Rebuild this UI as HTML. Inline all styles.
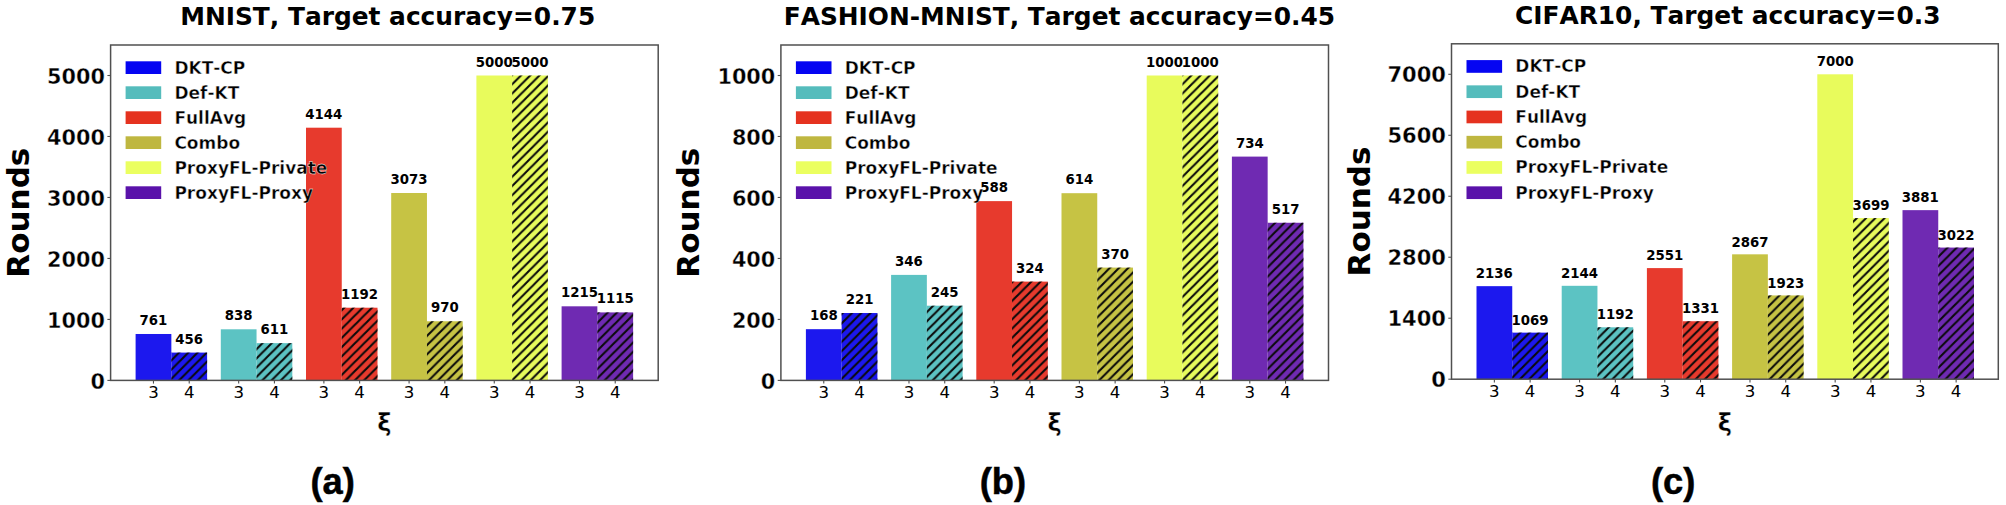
<!DOCTYPE html>
<html lang="en"><head><meta charset="utf-8"><title>Rounds to target accuracy</title>
<style>
html,body{margin:0;padding:0;background:#fff;}
svg{display:block;}
text{font-family:"DejaVu Sans","Liberation Sans",sans-serif;fill:#000;font-kerning:none;font-variant-ligatures:none;}
.b{font-weight:bold;}
.tag{font-family:"Liberation Sans",Arial,sans-serif;font-weight:bold;fill:#000;}
</style></head><body>
<svg width="2006" height="505" viewBox="0 0 2006 505">
<rect x="0" y="0" width="2006" height="505" fill="#ffffff"/>
<defs>
<pattern id="h" patternUnits="userSpaceOnUse" x="4.43" y="0" width="9.25" height="9.25"><path d="M-9.25 9.25 L9.25 -9.25 M0 9.25 L9.25 0 M0 18.5 L18.5 0" stroke="#0a0a0a" stroke-width="2.1" fill="none" stroke-linecap="square"/></pattern>
</defs>
<g transform="translate(0,0)">
<text class="b" x="387.7" y="25" font-size="24.86" text-anchor="middle">MNIST, Target accuracy=0.75</text>
<text class="b" transform="translate(28.8,212.7) rotate(-90)" font-size="31" text-anchor="middle">Rounds</text>
<text class="b" x="384.4" y="430.6" font-size="24" text-anchor="middle" stroke="#fff" stroke-width="0.4">ξ</text>
<rect x="135.6" y="333.99" width="35.75" height="46.41" fill="#1c18ee"/><text class="b" x="153.47" y="324.99" font-size="13.3" text-anchor="middle">761</text>
<line x1="153.47" y1="380.4" x2="153.47" y2="383.6" stroke="#505050" stroke-width="1.1"/><text x="153.47" y="397.6" font-size="16.6" text-anchor="middle">3</text>
<rect x="171.35" y="352.59" width="35.75" height="27.81" fill="#1c18ee"/><rect x="171.35" y="352.59" width="35.75" height="27.81" fill="url(#h)"/><text class="b" x="189.22" y="343.59" font-size="13.3" text-anchor="middle">456</text>
<line x1="189.22" y1="380.4" x2="189.22" y2="383.6" stroke="#505050" stroke-width="1.1"/><text x="189.22" y="397.6" font-size="16.6" text-anchor="middle">4</text>
<rect x="220.8" y="329.3" width="35.75" height="51.1" fill="#5cc3c3"/><text class="b" x="238.68" y="320.3" font-size="13.3" text-anchor="middle">838</text>
<line x1="238.68" y1="380.4" x2="238.68" y2="383.6" stroke="#505050" stroke-width="1.1"/><text x="238.68" y="397.6" font-size="16.6" text-anchor="middle">3</text>
<rect x="256.55" y="343.14" width="35.75" height="37.26" fill="#5cc3c3"/><rect x="256.55" y="343.14" width="35.75" height="37.26" fill="url(#h)"/><text class="b" x="274.43" y="334.14" font-size="13.3" text-anchor="middle">611</text>
<line x1="274.43" y1="380.4" x2="274.43" y2="383.6" stroke="#505050" stroke-width="1.1"/><text x="274.43" y="397.6" font-size="16.6" text-anchor="middle">4</text>
<rect x="306" y="127.7" width="35.75" height="252.7" fill="#e73a2d"/><text class="b" x="323.88" y="118.7" font-size="13.3" text-anchor="middle">4144</text>
<line x1="323.88" y1="380.4" x2="323.88" y2="383.6" stroke="#505050" stroke-width="1.1"/><text x="323.88" y="397.6" font-size="16.6" text-anchor="middle">3</text>
<rect x="341.75" y="307.71" width="35.75" height="72.69" fill="#e73a2d"/><rect x="341.75" y="307.71" width="35.75" height="72.69" fill="url(#h)"/><text class="b" x="359.62" y="298.71" font-size="13.3" text-anchor="middle">1192</text>
<line x1="359.62" y1="380.4" x2="359.62" y2="383.6" stroke="#505050" stroke-width="1.1"/><text x="359.62" y="397.6" font-size="16.6" text-anchor="middle">4</text>
<rect x="391.2" y="193.01" width="35.75" height="187.39" fill="#c6c344"/><text class="b" x="409.08" y="184.01" font-size="13.3" text-anchor="middle">3073</text>
<line x1="409.08" y1="380.4" x2="409.08" y2="383.6" stroke="#505050" stroke-width="1.1"/><text x="409.08" y="397.6" font-size="16.6" text-anchor="middle">3</text>
<rect x="426.95" y="321.25" width="35.75" height="59.15" fill="#c6c344"/><rect x="426.95" y="321.25" width="35.75" height="59.15" fill="url(#h)"/><text class="b" x="444.83" y="312.25" font-size="13.3" text-anchor="middle">970</text>
<line x1="444.83" y1="380.4" x2="444.83" y2="383.6" stroke="#505050" stroke-width="1.1"/><text x="444.83" y="397.6" font-size="16.6" text-anchor="middle">4</text>
<rect x="476.4" y="75.5" width="35.75" height="304.9" fill="#e8fb5c"/><text class="b" x="494.27" y="66.5" font-size="13.3" text-anchor="middle">5000</text>
<line x1="494.27" y1="380.4" x2="494.27" y2="383.6" stroke="#505050" stroke-width="1.1"/><text x="494.27" y="397.6" font-size="16.6" text-anchor="middle">3</text>
<rect x="512.15" y="75.5" width="35.75" height="304.9" fill="#e8fb5c"/><rect x="512.15" y="75.5" width="35.75" height="304.9" fill="url(#h)"/><text class="b" x="530.02" y="66.5" font-size="13.3" text-anchor="middle">5000</text>
<line x1="530.02" y1="380.4" x2="530.02" y2="383.6" stroke="#505050" stroke-width="1.1"/><text x="530.02" y="397.6" font-size="16.6" text-anchor="middle">4</text>
<rect x="561.6" y="306.31" width="35.75" height="74.09" fill="#6f2ab2"/><text class="b" x="579.48" y="297.31" font-size="13.3" text-anchor="middle">1215</text>
<line x1="579.48" y1="380.4" x2="579.48" y2="383.6" stroke="#505050" stroke-width="1.1"/><text x="579.48" y="397.6" font-size="16.6" text-anchor="middle">3</text>
<rect x="597.35" y="312.41" width="35.75" height="67.99" fill="#6f2ab2"/><rect x="597.35" y="312.41" width="35.75" height="67.99" fill="url(#h)"/><text class="b" x="615.23" y="303.41" font-size="13.3" text-anchor="middle">1115</text>
<line x1="615.23" y1="380.4" x2="615.23" y2="383.6" stroke="#505050" stroke-width="1.1"/><text x="615.23" y="397.6" font-size="16.6" text-anchor="middle">4</text>
<rect x="110.6" y="45" width="547.6" height="335.4" fill="none" stroke="#505050" stroke-width="1.5"/>
<line x1="107.4" y1="380.4" x2="110.6" y2="380.4" stroke="#505050" stroke-width="1.1"/><text class="b" x="105.0" y="388.7" font-size="20.8" text-anchor="end" stroke="#fff" stroke-width="0.35">0</text>
<line x1="107.4" y1="319.42" x2="110.6" y2="319.42" stroke="#505050" stroke-width="1.1"/><text class="b" x="105.0" y="327.72" font-size="20.8" text-anchor="end" stroke="#fff" stroke-width="0.35">1000</text>
<line x1="107.4" y1="258.44" x2="110.6" y2="258.44" stroke="#505050" stroke-width="1.1"/><text class="b" x="105.0" y="266.74" font-size="20.8" text-anchor="end" stroke="#fff" stroke-width="0.35">2000</text>
<line x1="107.4" y1="197.46" x2="110.6" y2="197.46" stroke="#505050" stroke-width="1.1"/><text class="b" x="105.0" y="205.76" font-size="20.8" text-anchor="end" stroke="#fff" stroke-width="0.35">3000</text>
<line x1="107.4" y1="136.48" x2="110.6" y2="136.48" stroke="#505050" stroke-width="1.1"/><text class="b" x="105.0" y="144.78" font-size="20.8" text-anchor="end" stroke="#fff" stroke-width="0.35">4000</text>
<line x1="107.4" y1="75.5" x2="110.6" y2="75.5" stroke="#505050" stroke-width="1.1"/><text class="b" x="105.0" y="83.8" font-size="20.8" text-anchor="end" stroke="#fff" stroke-width="0.35">5000</text>
<rect x="125.6" y="61.3" width="35.6" height="12.7" fill="#0505f2"/><text class="b" x="174.4" y="73.5" font-size="17" stroke="#fff" stroke-width="0.4">DKT-CP</text>
<rect x="125.6" y="86.3" width="35.6" height="12.7" fill="#55bcbc"/><text class="b" x="174.4" y="98.5" font-size="17" stroke="#fff" stroke-width="0.4">Def-KT</text>
<rect x="125.6" y="111.3" width="35.6" height="12.7" fill="#e5321f"/><text class="b" x="174.4" y="123.5" font-size="17" stroke="#fff" stroke-width="0.4">FullAvg</text>
<rect x="125.6" y="136.3" width="35.6" height="12.7" fill="#bfb740"/><text class="b" x="174.4" y="148.5" font-size="17" stroke="#fff" stroke-width="0.4">Combo</text>
<rect x="125.6" y="161.3" width="35.6" height="12.7" fill="#ebff60"/><text class="b" x="174.4" y="173.5" font-size="17" stroke="#fff" stroke-width="0.4">ProxyFL-Private</text>
<rect x="125.6" y="186.3" width="35.6" height="12.7" fill="#5a12aa"/><text class="b" x="174.4" y="198.5" font-size="17" stroke="#fff" stroke-width="0.4">ProxyFL-Proxy</text>
<text class="tag" x="332.6" y="494" font-size="36.3" text-anchor="middle" stroke="#000" stroke-width="0.5">(a)</text>
</g>
<g transform="translate(670.3,0)">
<text class="b" x="389.1" y="25" font-size="24.86" text-anchor="middle">FASHION-MNIST, Target accuracy=0.45</text>
<text class="b" transform="translate(28.8,212.7) rotate(-90)" font-size="31" text-anchor="middle">Rounds</text>
<text class="b" x="384.4" y="430.6" font-size="24" text-anchor="middle" stroke="#fff" stroke-width="0.4">ξ</text>
<rect x="135.6" y="329.18" width="35.75" height="51.22" fill="#1c18ee"/><text class="b" x="153.47" y="320.18" font-size="13.3" text-anchor="middle">168</text>
<line x1="153.47" y1="380.4" x2="153.47" y2="383.6" stroke="#505050" stroke-width="1.1"/><text x="153.47" y="397.6" font-size="16.6" text-anchor="middle">3</text>
<rect x="171.35" y="313.02" width="35.75" height="67.38" fill="#1c18ee"/><rect x="171.35" y="313.02" width="35.75" height="67.38" fill="url(#h)"/><text class="b" x="189.22" y="304.02" font-size="13.3" text-anchor="middle">221</text>
<line x1="189.22" y1="380.4" x2="189.22" y2="383.6" stroke="#505050" stroke-width="1.1"/><text x="189.22" y="397.6" font-size="16.6" text-anchor="middle">4</text>
<rect x="220.8" y="274.9" width="35.75" height="105.5" fill="#5cc3c3"/><text class="b" x="238.68" y="265.9" font-size="13.3" text-anchor="middle">346</text>
<line x1="238.68" y1="380.4" x2="238.68" y2="383.6" stroke="#505050" stroke-width="1.1"/><text x="238.68" y="397.6" font-size="16.6" text-anchor="middle">3</text>
<rect x="256.55" y="305.7" width="35.75" height="74.7" fill="#5cc3c3"/><rect x="256.55" y="305.7" width="35.75" height="74.7" fill="url(#h)"/><text class="b" x="274.43" y="296.7" font-size="13.3" text-anchor="middle">245</text>
<line x1="274.43" y1="380.4" x2="274.43" y2="383.6" stroke="#505050" stroke-width="1.1"/><text x="274.43" y="397.6" font-size="16.6" text-anchor="middle">4</text>
<rect x="306" y="201.12" width="35.75" height="179.28" fill="#e73a2d"/><text class="b" x="323.88" y="192.12" font-size="13.3" text-anchor="middle">588</text>
<line x1="323.88" y1="380.4" x2="323.88" y2="383.6" stroke="#505050" stroke-width="1.1"/><text x="323.88" y="397.6" font-size="16.6" text-anchor="middle">3</text>
<rect x="341.75" y="281.61" width="35.75" height="98.79" fill="#e73a2d"/><rect x="341.75" y="281.61" width="35.75" height="98.79" fill="url(#h)"/><text class="b" x="359.62" y="272.61" font-size="13.3" text-anchor="middle">324</text>
<line x1="359.62" y1="380.4" x2="359.62" y2="383.6" stroke="#505050" stroke-width="1.1"/><text x="359.62" y="397.6" font-size="16.6" text-anchor="middle">4</text>
<rect x="391.2" y="193.19" width="35.75" height="187.21" fill="#c6c344"/><text class="b" x="409.08" y="184.19" font-size="13.3" text-anchor="middle">614</text>
<line x1="409.08" y1="380.4" x2="409.08" y2="383.6" stroke="#505050" stroke-width="1.1"/><text x="409.08" y="397.6" font-size="16.6" text-anchor="middle">3</text>
<rect x="426.95" y="267.59" width="35.75" height="112.81" fill="#c6c344"/><rect x="426.95" y="267.59" width="35.75" height="112.81" fill="url(#h)"/><text class="b" x="444.83" y="258.59" font-size="13.3" text-anchor="middle">370</text>
<line x1="444.83" y1="380.4" x2="444.83" y2="383.6" stroke="#505050" stroke-width="1.1"/><text x="444.83" y="397.6" font-size="16.6" text-anchor="middle">4</text>
<rect x="476.4" y="75.5" width="35.75" height="304.9" fill="#e8fb5c"/><text class="b" x="494.27" y="66.5" font-size="13.3" text-anchor="middle">1000</text>
<line x1="494.27" y1="380.4" x2="494.27" y2="383.6" stroke="#505050" stroke-width="1.1"/><text x="494.27" y="397.6" font-size="16.6" text-anchor="middle">3</text>
<rect x="512.15" y="75.5" width="35.75" height="304.9" fill="#e8fb5c"/><rect x="512.15" y="75.5" width="35.75" height="304.9" fill="url(#h)"/><text class="b" x="530.02" y="66.5" font-size="13.3" text-anchor="middle">1000</text>
<line x1="530.02" y1="380.4" x2="530.02" y2="383.6" stroke="#505050" stroke-width="1.1"/><text x="530.02" y="397.6" font-size="16.6" text-anchor="middle">4</text>
<rect x="561.6" y="156.6" width="35.75" height="223.8" fill="#6f2ab2"/><text class="b" x="579.48" y="147.6" font-size="13.3" text-anchor="middle">734</text>
<line x1="579.48" y1="380.4" x2="579.48" y2="383.6" stroke="#505050" stroke-width="1.1"/><text x="579.48" y="397.6" font-size="16.6" text-anchor="middle">3</text>
<rect x="597.35" y="222.77" width="35.75" height="157.63" fill="#6f2ab2"/><rect x="597.35" y="222.77" width="35.75" height="157.63" fill="url(#h)"/><text class="b" x="615.23" y="213.77" font-size="13.3" text-anchor="middle">517</text>
<line x1="615.23" y1="380.4" x2="615.23" y2="383.6" stroke="#505050" stroke-width="1.1"/><text x="615.23" y="397.6" font-size="16.6" text-anchor="middle">4</text>
<rect x="110.6" y="45" width="547.6" height="335.4" fill="none" stroke="#505050" stroke-width="1.5"/>
<line x1="107.4" y1="380.4" x2="110.6" y2="380.4" stroke="#505050" stroke-width="1.1"/><text class="b" x="105.0" y="388.7" font-size="20.8" text-anchor="end" stroke="#fff" stroke-width="0.35">0</text>
<line x1="107.4" y1="319.42" x2="110.6" y2="319.42" stroke="#505050" stroke-width="1.1"/><text class="b" x="105.0" y="327.72" font-size="20.8" text-anchor="end" stroke="#fff" stroke-width="0.35">200</text>
<line x1="107.4" y1="258.44" x2="110.6" y2="258.44" stroke="#505050" stroke-width="1.1"/><text class="b" x="105.0" y="266.74" font-size="20.8" text-anchor="end" stroke="#fff" stroke-width="0.35">400</text>
<line x1="107.4" y1="197.46" x2="110.6" y2="197.46" stroke="#505050" stroke-width="1.1"/><text class="b" x="105.0" y="205.76" font-size="20.8" text-anchor="end" stroke="#fff" stroke-width="0.35">600</text>
<line x1="107.4" y1="136.48" x2="110.6" y2="136.48" stroke="#505050" stroke-width="1.1"/><text class="b" x="105.0" y="144.78" font-size="20.8" text-anchor="end" stroke="#fff" stroke-width="0.35">800</text>
<line x1="107.4" y1="75.5" x2="110.6" y2="75.5" stroke="#505050" stroke-width="1.1"/><text class="b" x="105.0" y="83.8" font-size="20.8" text-anchor="end" stroke="#fff" stroke-width="0.35">1000</text>
<rect x="125.6" y="61.3" width="35.6" height="12.7" fill="#0505f2"/><text class="b" x="174.4" y="73.5" font-size="17" stroke="#fff" stroke-width="0.4">DKT-CP</text>
<rect x="125.6" y="86.3" width="35.6" height="12.7" fill="#55bcbc"/><text class="b" x="174.4" y="98.5" font-size="17" stroke="#fff" stroke-width="0.4">Def-KT</text>
<rect x="125.6" y="111.3" width="35.6" height="12.7" fill="#e5321f"/><text class="b" x="174.4" y="123.5" font-size="17" stroke="#fff" stroke-width="0.4">FullAvg</text>
<rect x="125.6" y="136.3" width="35.6" height="12.7" fill="#bfb740"/><text class="b" x="174.4" y="148.5" font-size="17" stroke="#fff" stroke-width="0.4">Combo</text>
<rect x="125.6" y="161.3" width="35.6" height="12.7" fill="#ebff60"/><text class="b" x="174.4" y="173.5" font-size="17" stroke="#fff" stroke-width="0.4">ProxyFL-Private</text>
<rect x="125.6" y="186.3" width="35.6" height="12.7" fill="#5a12aa"/><text class="b" x="174.4" y="198.5" font-size="17" stroke="#fff" stroke-width="0.4">ProxyFL-Proxy</text>
<text class="tag" x="332.6" y="494" font-size="36.3" text-anchor="middle" stroke="#000" stroke-width="0.5">(b)</text>
</g>
<g transform="translate(1340.9,-1.2)">
<text class="b" x="386.8" y="25" font-size="24.86" text-anchor="middle">CIFAR10, Target accuracy=0.3</text>
<text class="b" transform="translate(28.8,212.7) rotate(-90)" font-size="31" text-anchor="middle">Rounds</text>
<text class="b" x="384" y="432.4" font-size="24" text-anchor="middle" stroke="#fff" stroke-width="0.4">ξ</text>
<rect x="135.6" y="287.36" width="35.75" height="93.04" fill="#1c18ee"/><text class="b" x="153.47" y="279.56" font-size="13.3" text-anchor="middle">2136</text>
<line x1="153.47" y1="380.4" x2="153.47" y2="383.6" stroke="#505050" stroke-width="1.1"/><text x="153.47" y="398.62" font-size="16.6" text-anchor="middle">3</text>
<rect x="171.35" y="333.84" width="35.75" height="46.56" fill="#1c18ee"/><rect x="171.35" y="333.84" width="35.75" height="46.56" fill="url(#h)"/><text class="b" x="189.22" y="326.04" font-size="13.3" text-anchor="middle">1069</text>
<line x1="189.22" y1="380.4" x2="189.22" y2="383.6" stroke="#505050" stroke-width="1.1"/><text x="189.22" y="398.62" font-size="16.6" text-anchor="middle">4</text>
<rect x="220.8" y="287.01" width="35.75" height="93.39" fill="#5cc3c3"/><text class="b" x="238.68" y="279.21" font-size="13.3" text-anchor="middle">2144</text>
<line x1="238.68" y1="380.4" x2="238.68" y2="383.6" stroke="#505050" stroke-width="1.1"/><text x="238.68" y="398.62" font-size="16.6" text-anchor="middle">3</text>
<rect x="256.55" y="328.48" width="35.75" height="51.92" fill="#5cc3c3"/><rect x="256.55" y="328.48" width="35.75" height="51.92" fill="url(#h)"/><text class="b" x="274.43" y="320.68" font-size="13.3" text-anchor="middle">1192</text>
<line x1="274.43" y1="380.4" x2="274.43" y2="383.6" stroke="#505050" stroke-width="1.1"/><text x="274.43" y="398.62" font-size="16.6" text-anchor="middle">4</text>
<rect x="306" y="269.29" width="35.75" height="111.11" fill="#e73a2d"/><text class="b" x="323.88" y="261.49" font-size="13.3" text-anchor="middle">2551</text>
<line x1="323.88" y1="380.4" x2="323.88" y2="383.6" stroke="#505050" stroke-width="1.1"/><text x="323.88" y="398.62" font-size="16.6" text-anchor="middle">3</text>
<rect x="341.75" y="322.43" width="35.75" height="57.97" fill="#e73a2d"/><rect x="341.75" y="322.43" width="35.75" height="57.97" fill="url(#h)"/><text class="b" x="359.62" y="314.63" font-size="13.3" text-anchor="middle">1331</text>
<line x1="359.62" y1="380.4" x2="359.62" y2="383.6" stroke="#505050" stroke-width="1.1"/><text x="359.62" y="398.62" font-size="16.6" text-anchor="middle">4</text>
<rect x="391.2" y="255.52" width="35.75" height="124.88" fill="#c6c344"/><text class="b" x="409.08" y="247.72" font-size="13.3" text-anchor="middle">2867</text>
<line x1="409.08" y1="380.4" x2="409.08" y2="383.6" stroke="#505050" stroke-width="1.1"/><text x="409.08" y="398.62" font-size="16.6" text-anchor="middle">3</text>
<rect x="426.95" y="296.64" width="35.75" height="83.76" fill="#c6c344"/><rect x="426.95" y="296.64" width="35.75" height="83.76" fill="url(#h)"/><text class="b" x="444.83" y="288.84" font-size="13.3" text-anchor="middle">1923</text>
<line x1="444.83" y1="380.4" x2="444.83" y2="383.6" stroke="#505050" stroke-width="1.1"/><text x="444.83" y="398.62" font-size="16.6" text-anchor="middle">4</text>
<rect x="476.4" y="75.5" width="35.75" height="304.9" fill="#e8fb5c"/><text class="b" x="494.27" y="67.7" font-size="13.3" text-anchor="middle">7000</text>
<line x1="494.27" y1="380.4" x2="494.27" y2="383.6" stroke="#505050" stroke-width="1.1"/><text x="494.27" y="398.62" font-size="16.6" text-anchor="middle">3</text>
<rect x="512.15" y="219.28" width="35.75" height="161.12" fill="#e8fb5c"/><rect x="512.15" y="219.28" width="35.75" height="161.12" fill="url(#h)"/><text class="b" x="530.02" y="211.48" font-size="13.3" text-anchor="middle">3699</text>
<line x1="530.02" y1="380.4" x2="530.02" y2="383.6" stroke="#505050" stroke-width="1.1"/><text x="530.02" y="398.62" font-size="16.6" text-anchor="middle">4</text>
<rect x="561.6" y="211.35" width="35.75" height="169.05" fill="#6f2ab2"/><text class="b" x="579.48" y="203.55" font-size="13.3" text-anchor="middle">3881</text>
<line x1="579.48" y1="380.4" x2="579.48" y2="383.6" stroke="#505050" stroke-width="1.1"/><text x="579.48" y="398.62" font-size="16.6" text-anchor="middle">3</text>
<rect x="597.35" y="248.77" width="35.75" height="131.63" fill="#6f2ab2"/><rect x="597.35" y="248.77" width="35.75" height="131.63" fill="url(#h)"/><text class="b" x="615.23" y="240.97" font-size="13.3" text-anchor="middle">3022</text>
<line x1="615.23" y1="380.4" x2="615.23" y2="383.6" stroke="#505050" stroke-width="1.1"/><text x="615.23" y="398.62" font-size="16.6" text-anchor="middle">4</text>
<rect x="110.6" y="45" width="546.8" height="335.4" fill="none" stroke="#505050" stroke-width="1.5"/>
<line x1="107.4" y1="380.4" x2="110.6" y2="380.4" stroke="#505050" stroke-width="1.1"/><text class="b" x="105.0" y="387.8" font-size="21" text-anchor="end" stroke="#fff" stroke-width="0.3">0</text>
<line x1="107.4" y1="319.42" x2="110.6" y2="319.42" stroke="#505050" stroke-width="1.1"/><text class="b" x="105.0" y="326.82" font-size="21" text-anchor="end" stroke="#fff" stroke-width="0.3">1400</text>
<line x1="107.4" y1="258.44" x2="110.6" y2="258.44" stroke="#505050" stroke-width="1.1"/><text class="b" x="105.0" y="265.84" font-size="21" text-anchor="end" stroke="#fff" stroke-width="0.3">2800</text>
<line x1="107.4" y1="197.46" x2="110.6" y2="197.46" stroke="#505050" stroke-width="1.1"/><text class="b" x="105.0" y="204.86" font-size="21" text-anchor="end" stroke="#fff" stroke-width="0.3">4200</text>
<line x1="107.4" y1="136.48" x2="110.6" y2="136.48" stroke="#505050" stroke-width="1.1"/><text class="b" x="105.0" y="143.88" font-size="21" text-anchor="end" stroke="#fff" stroke-width="0.3">5600</text>
<line x1="107.4" y1="75.5" x2="110.6" y2="75.5" stroke="#505050" stroke-width="1.1"/><text class="b" x="105.0" y="82.9" font-size="21" text-anchor="end" stroke="#fff" stroke-width="0.3">7000</text>
<rect x="125.6" y="61.3" width="35.6" height="12.7" fill="#0505f2"/><text class="b" x="174.4" y="73.5" font-size="17" stroke="#fff" stroke-width="0.4">DKT-CP</text>
<rect x="125.6" y="86.55" width="35.6" height="12.7" fill="#55bcbc"/><text class="b" x="174.4" y="98.75" font-size="17" stroke="#fff" stroke-width="0.4">Def-KT</text>
<rect x="125.6" y="111.8" width="35.6" height="12.7" fill="#e5321f"/><text class="b" x="174.4" y="124" font-size="17" stroke="#fff" stroke-width="0.4">FullAvg</text>
<rect x="125.6" y="137.05" width="35.6" height="12.7" fill="#bfb740"/><text class="b" x="174.4" y="149.25" font-size="17" stroke="#fff" stroke-width="0.4">Combo</text>
<rect x="125.6" y="162.3" width="35.6" height="12.7" fill="#ebff60"/><text class="b" x="174.4" y="174.5" font-size="17" stroke="#fff" stroke-width="0.4">ProxyFL-Private</text>
<rect x="125.6" y="187.55" width="35.6" height="12.7" fill="#5a12aa"/><text class="b" x="174.4" y="199.75" font-size="17" stroke="#fff" stroke-width="0.4">ProxyFL-Proxy</text>
<text class="tag" x="332.2" y="495.2" font-size="36.3" text-anchor="middle" stroke="#000" stroke-width="0.5">(c)</text>
</g>
</svg>
</body></html>
